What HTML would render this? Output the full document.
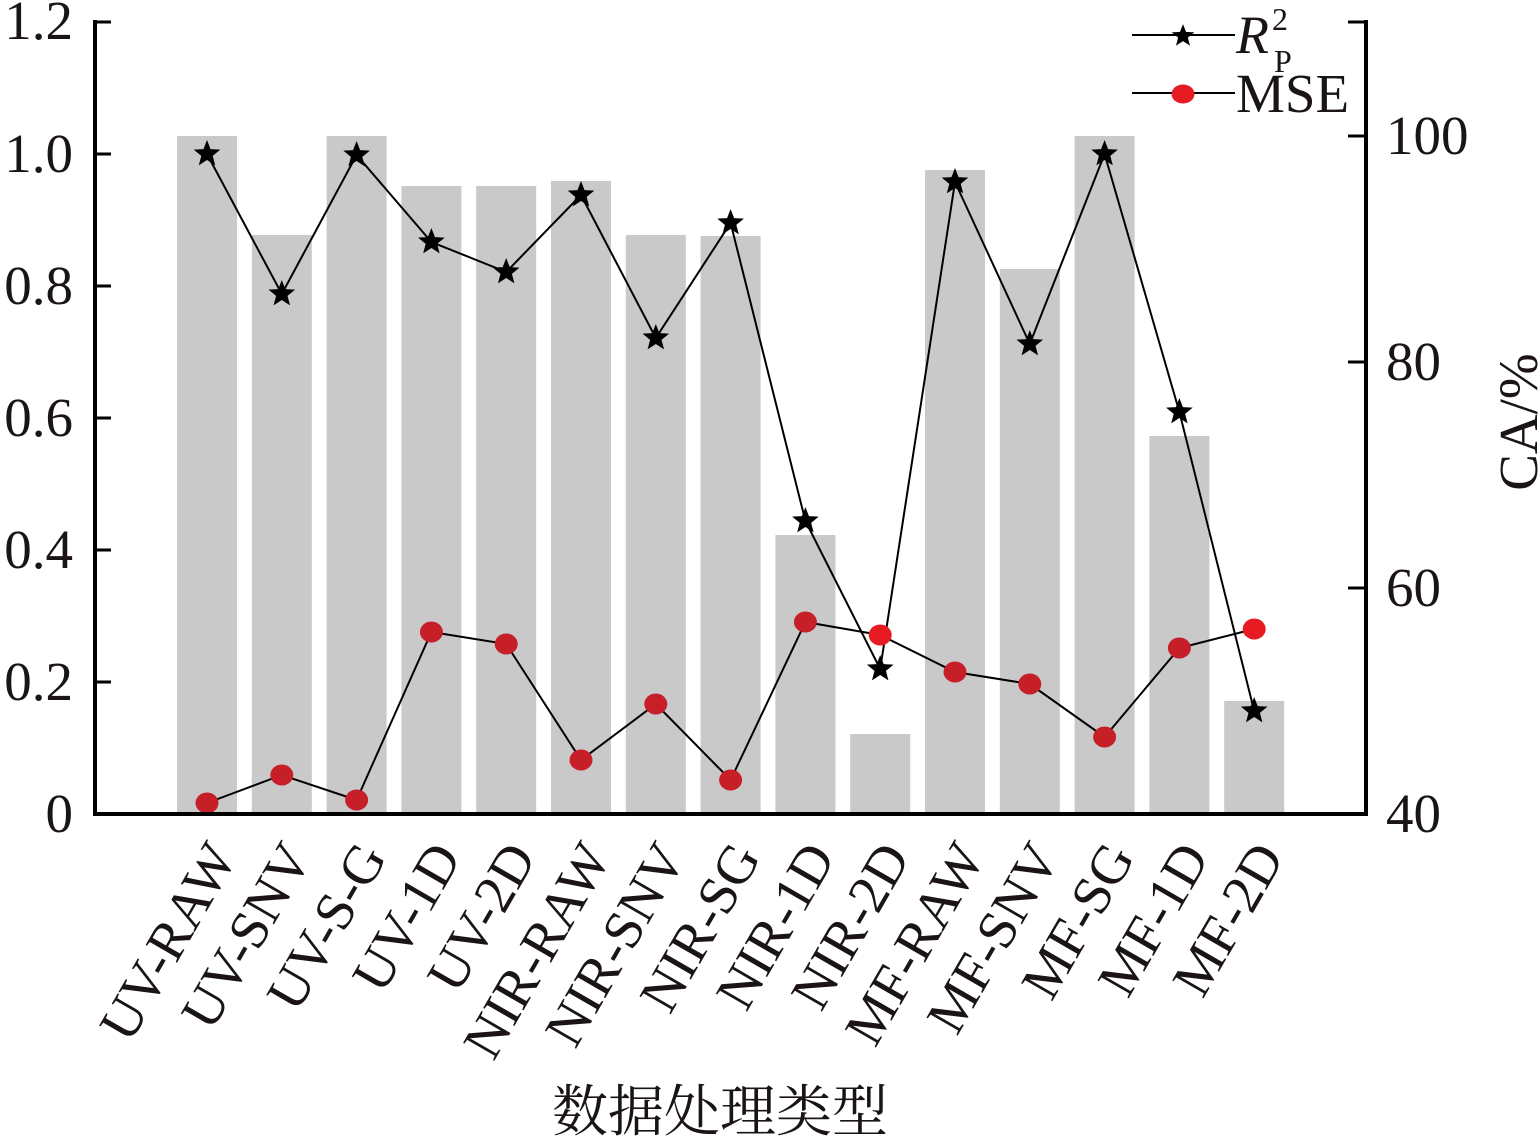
<!DOCTYPE html>
<html>
<head>
<meta charset="utf-8">
<style>
  html,body{margin:0;padding:0;background:#fff;}
  svg{display:block;}
  text{font-family:"Liberation Serif","Noto Serif CJK SC",serif;fill:#1a1414;}
</style>
</head>
<body>
<svg width="1538" height="1142" viewBox="0 0 1538 1142" xmlns="http://www.w3.org/2000/svg">
  <defs>
    <path id="st" d="M0,-14 L3.53,-4.85 L13.31,-4.33 L5.71,1.85 L8.23,11.33 L0,6 L-8.23,11.33 L-5.71,1.85 L-13.31,-4.33 L-3.53,-4.85 Z" fill="#000"/>
  </defs>
  <rect width="1538" height="1142" fill="#fff"/>

  <!-- bars -->
  <g fill="#c9c9c9">
    <rect x="177" y="136" width="60" height="678"/>
    <rect x="251.8" y="235" width="60" height="579"/>
    <rect x="326.6" y="136" width="60" height="678"/>
    <rect x="401.4" y="186" width="60" height="628"/>
    <rect x="476.2" y="186" width="60" height="628"/>
    <rect x="551" y="181" width="60" height="633"/>
    <rect x="625.8" y="235" width="60" height="579"/>
    <rect x="700.6" y="236" width="60" height="578"/>
    <rect x="775.4" y="535" width="60" height="279"/>
    <rect x="850.2" y="734" width="60" height="80"/>
    <rect x="925" y="170" width="60" height="644"/>
    <rect x="999.8" y="269" width="60" height="545"/>
    <rect x="1074.6" y="136" width="60" height="678"/>
    <rect x="1149.4" y="436" width="60" height="378"/>
    <rect x="1224.2" y="701" width="60" height="113"/>
  </g>

  <!-- MSE line -->
  <polyline fill="none" stroke="#000" stroke-width="2" points="207,803 281.8,775 356.6,800 431.4,632 506.2,644 581,760 655.8,704 730.6,780 805.4,622 880.2,635 955,672 1029.8,684 1104.6,737 1179.4,648 1254.2,629"/>
  <!-- R2 line -->
  <polyline fill="none" stroke="#000" stroke-width="2" points="207,154 281.8,294 356.6,155 431.4,242 506.2,272 581,195 655.8,338 730.6,223 805.4,521 880.2,669 955,182 1029.8,344 1104.6,154 1179.4,412 1254.2,711"/>

  <!-- MSE dots -->
  <g fill="#c61f28">
    <ellipse cx="207" cy="803" rx="11.5" ry="10.5"/>
    <ellipse cx="281.8" cy="775" rx="11.5" ry="10.5"/>
    <ellipse cx="356.6" cy="800" rx="11.5" ry="10.5"/>
    <ellipse cx="431.4" cy="632" rx="11.5" ry="10.5"/>
    <ellipse cx="506.2" cy="644" rx="11.5" ry="10.5"/>
    <ellipse cx="581" cy="760" rx="11.5" ry="10.5"/>
    <ellipse cx="655.8" cy="704" rx="11.5" ry="10.5"/>
    <ellipse cx="730.6" cy="780" rx="11.5" ry="10.5"/>
    <ellipse cx="805.4" cy="622" rx="11.5" ry="10.5"/>
    <ellipse cx="955" cy="672" rx="11.5" ry="10.5"/>
    <ellipse cx="1029.8" cy="684" rx="11.5" ry="10.5"/>
    <ellipse cx="1104.6" cy="737" rx="11.5" ry="10.5"/>
    <ellipse cx="1179.4" cy="648" rx="11.5" ry="10.5"/>
  </g>
  <g fill="#e61c22">
    <ellipse cx="880.2" cy="635" rx="11.5" ry="10.5"/>
    <ellipse cx="1254.2" cy="629" rx="11.5" ry="10.5"/>
  </g>

  <!-- stars -->
  <g>
    <use href="#st" x="207" y="154"/>
    <use href="#st" x="281.8" y="294"/>
    <use href="#st" x="356.6" y="155"/>
    <use href="#st" x="431.4" y="242"/>
    <use href="#st" x="506.2" y="272"/>
    <use href="#st" x="581" y="195"/>
    <use href="#st" x="655.8" y="338"/>
    <use href="#st" x="730.6" y="223"/>
    <use href="#st" x="805.4" y="521"/>
    <use href="#st" x="880.2" y="669"/>
    <use href="#st" x="955" y="182"/>
    <use href="#st" x="1029.8" y="344"/>
    <use href="#st" x="1104.6" y="154"/>
    <use href="#st" x="1179.4" y="412"/>
    <use href="#st" x="1254.2" y="711"/>
  </g>

  <!-- axes -->
  <g stroke="#000" fill="none">
    <line x1="95" y1="20" x2="95" y2="816" stroke-width="4"/>
    <line x1="93" y1="814" x2="1368" y2="814" stroke-width="4"/>
    <line x1="1366" y1="20" x2="1366" y2="816" stroke-width="4"/>
    <g stroke-width="3">
      <line x1="95" y1="22" x2="111" y2="22"/>
      <line x1="95" y1="154" x2="111" y2="154"/>
      <line x1="95" y1="286" x2="111" y2="286"/>
      <line x1="95" y1="418" x2="111" y2="418"/>
      <line x1="95" y1="550" x2="111" y2="550"/>
      <line x1="95" y1="682" x2="111" y2="682"/>
      <line x1="1348" y1="22" x2="1366" y2="22"/>
      <line x1="1348" y1="136" x2="1366" y2="136"/>
      <line x1="1348" y1="362" x2="1366" y2="362"/>
      <line x1="1348" y1="588" x2="1366" y2="588"/>
    </g>
  </g>

  <!-- left tick labels -->
  <g font-size="55" text-anchor="end">
    <text x="73" y="39">1.2</text>
    <text x="73" y="172">1.0</text>
    <text x="73" y="304">0.8</text>
    <text x="73" y="436">0.6</text>
    <text x="73" y="568">0.4</text>
    <text x="73" y="700">0.2</text>
    <text x="73" y="832">0</text>
  </g>
  <!-- right tick labels -->
  <g font-size="55" text-anchor="start">
    <text x="1386" y="154">100</text>
    <text x="1386" y="380">80</text>
    <text x="1386" y="606">60</text>
    <text x="1386" y="832">40</text>
  </g>

  <!-- right axis title -->
  <text font-size="55" text-anchor="middle" transform="translate(1537,422) rotate(-90)">CA/%</text>

  <!-- x labels -->
  <g font-size="55" text-anchor="end">
    <text transform="translate(238,857) rotate(-60)">UV-RAW</text>
    <text transform="translate(312.8,857) rotate(-60)">UV-SNV</text>
    <text transform="translate(387.6,857) rotate(-60)">UV-S-G</text>
    <text transform="translate(462.4,857) rotate(-60)">UV-1D</text>
    <text transform="translate(537.2,857) rotate(-60)">UV-2D</text>
    <text transform="translate(612,857) rotate(-60)">NIR-RAW</text>
    <text transform="translate(686.8,857) rotate(-60)">NIR-SNV</text>
    <text transform="translate(761.6,857) rotate(-60)">NIR-SG</text>
    <text transform="translate(836.4,857) rotate(-60)">NIR-1D</text>
    <text transform="translate(911.2,857) rotate(-60)">NIR-2D</text>
    <text transform="translate(986,857) rotate(-60)">MF-RAW</text>
    <text transform="translate(1060.8,857) rotate(-60)">MF-SNV</text>
    <text transform="translate(1135.6,857) rotate(-60)">MF-SG</text>
    <text transform="translate(1210.4,857) rotate(-60)">MF-1D</text>
    <text transform="translate(1285.2,857) rotate(-60)">MF-2D</text>
  </g>

  <!-- x axis title -->
  <text x="720" y="1131" font-size="56" text-anchor="middle" style="font-family:'Noto Serif CJK SC','Noto Sans CJK SC',serif;">数据处理类型</text>

  <!-- legend -->
  <line x1="1132" y1="35" x2="1235" y2="35" stroke="#000" stroke-width="2"/>
  <use href="#st" transform="translate(1183,36) scale(0.85)"/>
  <line x1="1132" y1="93" x2="1235" y2="93" stroke="#000" stroke-width="2"/>
  <ellipse cx="1183" cy="94" rx="11.5" ry="9.5" fill="#e61c22"/>
  <text x="1236" y="53" font-size="54" font-style="italic">R</text>
  <text x="1272" y="30" font-size="32">2</text>
  <text x="1274" y="72" font-size="32">P</text>
  <text x="1236" y="112" font-size="55">MSE</text>
</svg>
</body>
</html>
